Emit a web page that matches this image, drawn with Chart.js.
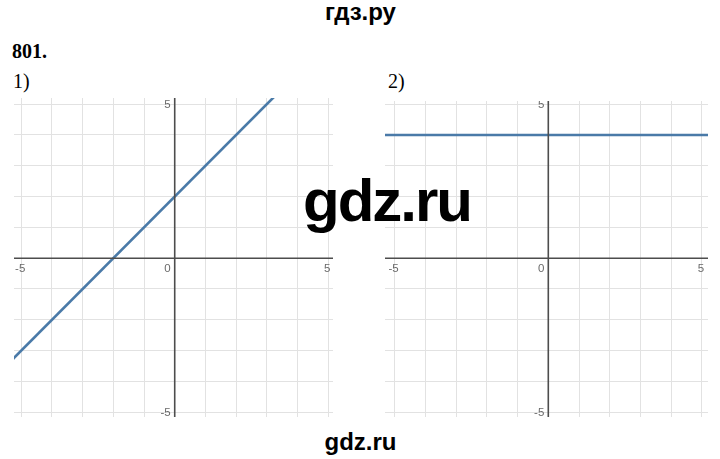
<!DOCTYPE html>
<html>
<head>
<meta charset="utf-8">
<script src="https://cdn.jsdelivr.net/npm/chart.js@4.4.1/dist/chart.umd.min.js"></script>
<style>
  html, body { margin:0; padding:0; background:#fff; }
  body { position:relative; width:720px; height:459px; overflow:hidden; }
  .t { position:absolute; line-height:1; white-space:nowrap; color:#000; }
  canvas { position:absolute; }
</style>
</head>
<body>
<div class="t" id="top" style="left:0;width:721px;text-align:center;top:-2px;font:bold 24px 'Liberation Sans',Arial,sans-serif;">гдз.ру</div>
<div class="t" style="left:12px;top:40px;font:bold 20px 'Liberation Serif','Times New Roman',serif;">801.</div>
<div class="t" style="left:13px;top:70px;font:20px 'Liberation Serif','Times New Roman',serif;">1)</div>
<div class="t" style="left:388px;top:70px;font:20px 'Liberation Serif','Times New Roman',serif;">2)</div>

<canvas id="c1" width="319" height="319" style="left:14px;top:98px;"></canvas>
<canvas id="c2" width="323" height="316" style="left:385px;top:101px;"></canvas>

<div class="t" style="left:287px;width:200px;text-align:center;top:166px;font:bold 60px 'Liberation Sans',Arial,sans-serif;letter-spacing:-2px;z-index:5;">gdz.ru</div>
<div class="t" style="left:0;width:721px;text-align:center;top:428px;font:bold 24px 'Liberation Sans',Arial,sans-serif;">gdz.ru</div>

<script>
// ---- data ----
const gridValues = [-5, -4, -3, -2, -1, 0, 1, 2, 3, 4, 5];
const xTickLabels = [-5, 0, 5];
const yTickLabels = [-5, 5];

// Graph 1: y = x + 2 (endpoints beyond the visible window, clipped)
const line1X = [-6, 4];
const line1Y = [-4, 6];
// Graph 2: y = 4
const line2X = [-6, 6];
const line2Y = [4, 4];

// visible windows
const range1X = [-5.235, 5.156];
const range1Y = [-5.156, 5.2];
const range2X = [-5.314, 5.197];
const range2Y = [-5.156, 5.104];

const axisPlugin = {
  id: 'axes',
  afterDatasetsDraw(chart) {
    const {ctx, chartArea, scales} = chart;
    const x0 = scales.x.getPixelForValue(0);
    const y0 = scales.y.getPixelForValue(0);
    ctx.save();
    ctx.strokeStyle = '#4d4d4d';
    ctx.lineWidth = 1.6;
    ctx.beginPath();
    ctx.moveTo(x0, chartArea.top);
    ctx.lineTo(x0, chartArea.bottom);
    ctx.moveTo(chartArea.left, y0);
    ctx.lineTo(chartArea.right, y0);
    ctx.stroke();
    ctx.restore();
  },
  afterDraw(chart) {
    const {ctx, scales} = chart;
    const x0 = scales.x.getPixelForValue(0);
    const y0 = scales.y.getPixelForValue(0);
    ctx.save();
    ctx.fillStyle = '#6a6a6a';
    ctx.font = '11.5px "Liberation Sans", Arial, sans-serif';
    ctx.textBaseline = 'alphabetic';
    xTickLabels.forEach(v => {
      const px = scales.x.getPixelForValue(v);
      if (v === 0) {
        ctx.textAlign = 'right';
        ctx.fillText(String(v), x0 - 4, y0 + 14);
      } else {
        ctx.textAlign = 'center';
        ctx.fillText(v < 0 ? '-' + Math.abs(v) : String(v), px - 1, y0 + 14);
      }
    });
    yTickLabels.forEach(v => {
      const py = scales.y.getPixelForValue(v);
      ctx.textAlign = 'right';
      ctx.fillText(v < 0 ? '-' + Math.abs(v) : String(v), x0 - 4, py + 4);
    });
    ctx.restore();
  }
};

function makeChart(id, xs, ys, rx, ry) {
  const scaleOpts = (r) => ({
    type: 'linear',
    min: r[0],
    max: r[1],
    afterBuildTicks: s => { s.ticks = gridValues.map(v => ({value: v})); },
    ticks: { display: false },
    grid: { color: '#e2e2e2', lineWidth: 1, drawTicks: false },
    border: { display: false }
  });
  return new Chart(document.getElementById(id), {
    type: 'scatter',
    data: {
      datasets: [{
        data: xs.map((x, i) => ({x: x, y: ys[i]})),
        showLine: true,
        borderColor: '#4a7aa8',
        borderWidth: 2.6,
        pointRadius: 0,
        fill: false
      }]
    },
    options: {
      responsive: false,
      animation: false,
      layout: { padding: 0, autoPadding: false },
      plugins: { legend: { display: false }, tooltip: { enabled: false } },
      scales: { x: scaleOpts(rx), y: scaleOpts(ry) }
    },
    plugins: [axisPlugin]
  });
}

makeChart('c1', line1X, line1Y, range1X, range1Y);
makeChart('c2', line2X, line2Y, range2X, range2Y);
</script>
</body>
</html>
